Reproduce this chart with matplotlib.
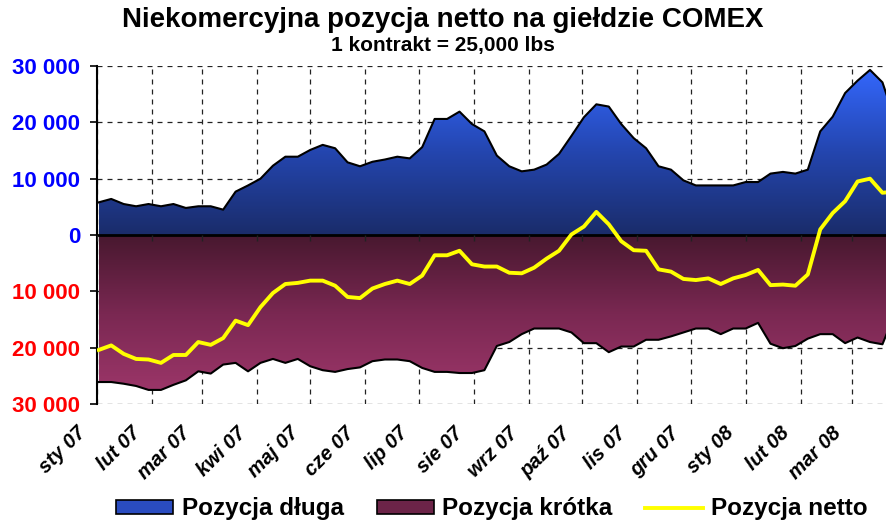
import numpy as np
import pandas as pd
import matplotlib
matplotlib.use('Agg')
import matplotlib.pyplot as plt
import matplotlib.dates as mdates
import matplotlib.transforms as mtransforms
from matplotlib.colors import LinearSegmentedColormap
from matplotlib.lines import Line2D
from matplotlib.patches import Patch

plt.rcParams['font.family'] = ['Liberation Sans', 'DejaVu Sans']

# weekly COT data, long / short / net non-commercial positions
weeks = pd.date_range('2007-01-02', periods=65, freq='7D')

long_pos = [5800, 6400, 5500, 5100, 5500, 5100, 5500, 4800, 5100, 5100,
            4500, 7700, 8800, 10000, 12300, 13900, 13900, 15100, 16000, 15400,
            12900, 12200, 13000, 13400, 13900, 13600, 15600, 20600, 20600, 21900,
            19700, 18400, 14100, 12200, 11300, 11600, 12500, 14400, 17600, 20900,
            23200, 22800, 19700, 17200, 15400, 12200, 11600, 9700, 8800, 8800,
            8800, 8800, 9400, 9400, 10900, 11200, 10900, 11600, 18400, 21000,
            25200, 27400, 29300, 27100, 20500]

short_pos = [-26100, -26100, -26400, -26800, -27500, -27500, -26600, -25800, -24200, -24600,
             -23000, -22700, -24200, -22700, -22000, -22700, -22000, -23300, -24000, -24300,
             -23800, -23500, -22400, -22100, -22100, -22400, -23600, -24300, -24300, -24500,
             -24500, -24000, -19700, -19000, -17600, -16600, -16600, -16600, -17300, -19200,
             -19200, -20800, -19800, -19800, -18600, -18600, -18000, -17300, -16600, -16600,
             -17600, -16600, -16600, -15600, -19300, -20100, -19700, -18400, -17600, -17600,
             -19200, -18200, -19000, -19400, -14000]

net_pos = [-20400, -19600, -21100, -22000, -22100, -22700, -21300, -21300, -19000, -19500,
           -18300, -15200, -16000, -12800, -10300, -8700, -8500, -8100, -8100, -9000,
           -11000, -11200, -9500, -8700, -8100, -8700, -7200, -3600, -3600, -2800,
           -5200, -5600, -5600, -6700, -6800, -5800, -4200, -2800, 100, 1500,
           4100, 1900, -1100, -2700, -2800, -6100, -6500, -7800, -8000, -7700,
           -8700, -7700, -7100, -6200, -8900, -8800, -9000, -7000, 1000, 3900,
           6000, 9500, 10000, 7500, 7700]

month_labels = ['sty 07', 'lut 07', 'mar 07', 'kwi 07', 'maj 07', 'cze 07', 'lip 07',
                'sie 07', 'wrz 07', 'paź 07', 'lis 07', 'gru 07', 'sty 08', 'lut 08', 'mar 08']
month_starts = pd.date_range('2007-01-01', periods=15, freq='MS')
y_ticks = [-30000, -20000, -10000, 0, 10000, 20000, 30000]

x = mdates.date2num(weeks)
xm = mdates.date2num(month_starts)

fig = plt.figure(figsize=(8.86, 5.22), dpi=100)
ax = fig.add_axes([97 / 886, 1 - 404 / 522, 1 - 97 / 886, (404 - 66) / 522])

blue_cmap = LinearSegmentedColormap.from_list('blue', ['#1a2c6a', '#2446b0', '#3468ff'])
red_cmap = LinearSegmentedColormap.from_list('maroon', ['#9c3669', '#7a2852', '#48182f'])
grad = np.linspace(0, 1, 256).reshape(-1, 1)

# long position area with vertical gradient
coll = ax.fill_between(x, 0, long_pos, color='none', lw=0)
im = ax.imshow(grad, cmap=blue_cmap, origin='lower', aspect='auto',
               extent=[x[0], x[-1], 0, 30000], zorder=2, interpolation='bilinear')
im.set_clip_path(coll.get_paths()[0], transform=ax.transData)

# short position area
coll2 = ax.fill_between(x, short_pos, 0, color='none', lw=0)
im2 = ax.imshow(grad, cmap=red_cmap, origin='lower', aspect='auto',
                extent=[x[0], x[-1], -28000, 0], zorder=2, interpolation='bilinear')
im2.set_clip_path(coll2.get_paths()[0], transform=ax.transData)

ax.plot(x, long_pos, color='k', lw=1.5, zorder=3)
ax.plot(x, short_pos, color='k', lw=1.5, zorder=3)
ax.axhline(0, color='k', lw=2, zorder=4)
ax.vlines(xm, -1000, 0, colors='#222222', lw=1, zorder=4)
ax.plot(x, net_pos, color='#ffff00', lw=2.8, zorder=5, solid_joinstyle='round')

ax.set_xlim(xm[0], xm[0] + 444)
ax.set_ylim(-30000, 30000)

ax.set_xticks(xm)
ax.set_xticklabels(month_labels, rotation=45, ha='right', va='top',
                   rotation_mode='anchor', fontsize=14.5, fontweight='bold', fontstyle='italic')
ax.tick_params(axis='x', length=0, pad=14)
offset = mtransforms.ScaledTranslation(-0.21, 0, fig.dpi_scale_trans)
for lab in ax.get_xticklabels():
    lab.set_transform(lab.get_transform() + offset)

ax.set_yticks(y_ticks)
ax.set_yticklabels([f'{abs(v):,}'.replace(',', ' ') for v in y_ticks],
                   fontsize=16, fontweight='bold')
for lab, v in zip(ax.get_yticklabels(), y_ticks):
    lab.set_color('#ff0000' if v < 0 else '#0000ff')
ax.tick_params(axis='y', length=5, width=1.2, pad=7)

ax.grid(True, color='#222222', ls=(0, (4, 4)), lw=0.9)
ax.set_axisbelow(True)
for s in ['top', 'right', 'bottom']:
    ax.spines[s].set_visible(False)
ax.spines['left'].set_linewidth(1.5)

fig.text(0.5, 1 - 20 / 522, 'Niekomercyjna pozycja netto na giełdzie COMEX',
         ha='center', va='center', fontsize=20, fontweight='bold')
fig.text(0.5, 1 - 45 / 522, '1 kontrakt = 25,000 lbs',
         ha='center', va='center', fontsize=15, fontweight='bold')

handles = [Patch(facecolor='#2a4cc0', edgecolor='k', lw=1.2),
           Patch(facecolor='#6c2448', edgecolor='k', lw=1.2),
           Line2D([], [], color='#ffff00', lw=2.8)]
fig.legend(handles, ['Pozycja długa', 'Pozycja krótka', 'Pozycja netto'],
           loc='center', bbox_to_anchor=(492 / 886, 1 - 509 / 522), ncol=3,
           frameon=False, prop={'size': 17.5, 'weight': 'bold'},
           handlelength=2.35, handleheight=0.55, handletextpad=0.35, columnspacing=1.35)

fig.savefig('out.png', dpi=100)
